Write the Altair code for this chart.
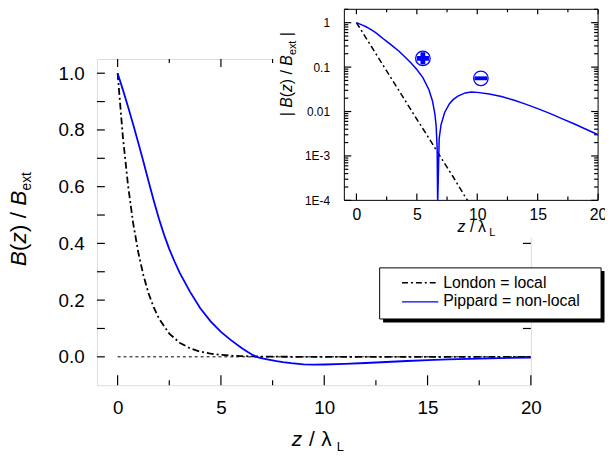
import altair as alt
import pandas as pd

# ---------------- data ----------------
z_pippard = [0, 0.25, 0.5, 0.75, 1.0, 1.25, 1.5, 1.75, 2.0, 2.25, 2.5, 2.75, 3.0, 3.5, 4.0, 4.5, 5.0,
             5.5, 6.0, 6.3, 6.5, 6.6, 6.68, 6.72, 6.73, 6.85, 7.0, 7.3, 7.7, 8.0, 8.4, 9.0,
             9.5, 10.0, 11.0, 12.0, 13.0, 14.0, 15.0, 16.0, 17.0, 18.0, 19.0, 20.0]
b_pippard = [1.0, 0.943, 0.883, 0.82, 0.755, 0.688, 0.618, 0.55, 0.487, 0.43, 0.38, 0.337, 0.297, 0.23, 0.171, 0.125, 0.088,
             0.058, 0.031, 0.017, 0.0085, 0.0046, 0.0015, 0.0001, -0.0001, -0.0025, -0.005, -0.0095, -0.0150, -0.0185, -0.0222, -0.0262,
             -0.0274, -0.027, -0.0248, -0.0217, -0.0182, -0.0147, -0.0116, -0.0091, -0.0069, -0.0053, -0.0040, -0.0030]

z_london = [0, 0.25, 0.5, 0.75, 1.0, 1.25, 1.5, 1.75, 2.0, 2.5, 3.0, 3.5, 4.0, 4.5, 5.0,
            5.5, 6.0, 7.0, 8.0, 9.0, 9.2, 10, 12, 14, 16, 18, 20]
b_london = [1.0, 0.779, 0.607, 0.472, 0.368, 0.287, 0.223, 0.174, 0.135, 0.082, 0.0498, 0.0302, 0.0183, 0.0111, 0.0067,
            0.0041, 0.0025, 0.00091, 0.00034, 0.00012, 0.0001, 0.00005, 0.000006, 0.000001, 0.0, 0.0, 0.0]

x_major = [0, 5, 10, 15, 20]
x_major_labels = ["0", "5", "10", "15", "20"]
x_minor = [2.5, 7.5, 12.5, 17.5]
y_main_ticks = [0.0, 0.1, 0.2, 0.3, 0.4, 0.5, 0.6, 0.7, 0.8, 0.9, 1.0]
y_main_labels = ["0.0", "", "0.2", "", "0.4", "", "0.6", "", "0.8", "", "1.0"]
inset_y_major = [0.0001, 0.001, 0.01, 0.1, 1.0]
inset_y_labels = ["1E-4", "1E-3", "0.01", "0.1", "1"]
inset_y_minor = [m * 10.0 ** e for e in range(-4, 0) for m in range(2, 10)] + [2.0]

legend_labels = ["London = local", "Pippard = non-local"]

FONT = "Liberation Sans"
BLUE = "#0000ff"
TICK = "#000000"
W, H = 439, 330

one = pd.DataFrame({"k": [0]})
pip = pd.DataFrame({"z": z_pippard, "b": b_pippard})
pip["babs"] = pip["b"].abs()
lon = pd.DataFrame({"z": z_london, "b": b_london})


def label_expr(values, labels):
    expr = "''"
    for v, lab in zip(values, labels):
        tol = abs(v) * 1e-3 + 1e-9
        expr = f"abs(datum.value - ({v})) < {tol} ? '{lab}' : ({expr})"
    return expr


def label_axis(orient, values, labels, base, fs, pad, z=0):
    return alt.Axis(orient=orient, values=values, offset=base, domain=False, grid=False,
                    title=None, ticks=False, zindex=z, labels=True,
                    labelExpr=label_expr(values, labels), labelFont=FONT,
                    labelFontSize=fs, labelColor="black", labelPadding=pad,
                    labelFlush=False, labelOverlap=False)


def xticks(values, scale, y0, y1):
    return alt.Chart(pd.DataFrame({"t": values})).mark_rule(color=TICK, strokeWidth=1.2).encode(
        x=alt.X("t:Q", scale=scale, axis=None), y=alt.value(y0), y2=alt.value(y1))


def yticks(values, scale, x0, x1):
    return alt.Chart(pd.DataFrame({"t": values})).mark_rule(color=TICK, strokeWidth=1.2).encode(
        y=alt.Y("t:Q", scale=scale, axis=None), x=alt.value(x0), x2=alt.value(x1))


# ---------------- main panel ----------------
mxs = alt.Scale(domain=[-1, 20], nice=False, zero=False)
mys = alt.Scale(domain=[-0.1, 1.05], nice=False, zero=False)

zero_line = alt.Chart(one).mark_rule(color="black", strokeWidth=1, strokeDash=[3, 3]).encode(
    x=alt.XDatum(0, type="quantitative", scale=mxs, axis=None),
    x2=alt.X2Datum(20),
    y=alt.YDatum(0, type="quantitative", scale=mys, axis=None))

lon_main = alt.Chart(lon).mark_line(color="black", strokeWidth=1.8, strokeDash=[7, 3, 2, 3]).encode(
    x=alt.X("z:Q", scale=mxs, axis=label_axis("bottom", x_major, x_major_labels, 0, 19, 14)),
    y=alt.Y("b:Q", scale=mys, axis=label_axis("left", y_main_ticks, y_main_labels, 0, 19, 13)))

pip_main = alt.Chart(pip).mark_line(color=BLUE, strokeWidth=1.8).encode(
    x=alt.X("z:Q", scale=mxs, axis=None),
    y=alt.Y("b:Q", scale=mys, axis=None))

main_ticks = [
    xticks(x_major, mxs, H, H - 10), xticks(x_minor, mxs, H, H - 5),
    xticks(x_major, mxs, 0, 8), xticks(x_minor, mxs, 0, 4),
    yticks(y_main_ticks, mys, 0, 8), yticks(y_main_ticks, mys, W, W - 8),
]

main = alt.layer(zero_line, *main_ticks, lon_main, pip_main).resolve_axis(x="independent", y="independent")

# ---------------- white background under the inset ----------------
bg = alt.Chart(one).mark_rect(color="white").encode(
    x=alt.value(179), x2=alt.value(520), y=alt.value(-57), y2=alt.value(181))

# ---------------- inset ----------------
IL, IR, IT, IB = 250.3, 507.0, -50.3, 143.0
ixs = alt.Scale(domain=[-1, 20], range=[IL, IR], nice=False, zero=False)
iys = alt.Scale(type="log", domain=[0.0001, 2], range=[IB, IT], nice=False)

frame = alt.Chart(one).mark_rect(fillOpacity=0, stroke="black", strokeWidth=1).encode(
    x=alt.XDatum(-1, type="quantitative", scale=ixs, axis=None),
    x2=alt.X2Datum(20),
    y=alt.YDatum(2, type="quantitative", scale=iys, axis=None),
    y2=alt.Y2Datum(0.0001))

lon_in = alt.Chart(lon).transform_filter("datum.b >= 0.0001").mark_line(
    color="black", strokeWidth=1.5, strokeDash=[6, 3, 2, 3]).encode(
    x=alt.X("z:Q", scale=ixs, axis=label_axis("bottom", x_major, x_major_labels, IB - H, 16, 6, z=1)),
    y=alt.Y("b:Q", scale=iys, axis=label_axis("left", inset_y_major, inset_y_labels, -IL, 12, 15, z=1)))

pip_in = alt.Chart(pip).mark_line(color=BLUE, strokeWidth=1.5).encode(
    x=alt.X("z:Q", scale=ixs, axis=None),
    y=alt.Y("babs:Q", scale=iys, axis=None))

inset_ticks = [
    xticks(x_major, ixs, IB, IB - 7), xticks(x_minor, ixs, IB, IB - 4),
    xticks(x_major, ixs, IT, IT + 5), xticks(x_minor, ixs, IT, IT + 3),
    yticks(inset_y_major, iys, IL, IL + 7), yticks(inset_y_minor, iys, IL, IL + 4),
    yticks(inset_y_major, iys, IR, IR - 7), yticks(inset_y_minor, iys, IR, IR - 4),
]


def sym(xv, yv, **mk):
    return alt.Chart(one).mark_point(**mk).encode(
        x=alt.XDatum(xv, type="quantitative", scale=ixs, axis=None),
        y=alt.YDatum(yv, type="quantitative", scale=iys, axis=None))


plus_c = sym(5.5, 0.157, shape="circle", filled=False, color=BLUE, strokeWidth=1.3, size=216, opacity=1)
plus_s = sym(5.5, 0.157, shape="cross", filled=True, color=BLUE, size=150, opacity=1)
minus_c = sym(10.3, 0.056, shape="circle", filled=False, color=BLUE, strokeWidth=1.3, size=216, opacity=1)
minus_s = sym(10.3, 0.056, shape="M-1,-0.3L1,-0.3L1,0.3L-1,0.3Z", filled=True, color=BLUE, size=169, opacity=1)

inset = alt.layer(frame, *inset_ticks, lon_in, pip_in, plus_c, plus_s, minus_c, minus_s).resolve_axis(
    x="independent", y="independent")

# ---------------- legend ----------------
shadow = alt.Chart(one).mark_rect(color="black").encode(
    x=alt.value(289.5), x2=alt.value(513.5), y=alt.value(214.5), y2=alt.value(266.5))
box = alt.Chart(one).mark_rect(fill="white", stroke="black", strokeWidth=1).encode(
    x=alt.value(286), x2=alt.value(510), y=alt.value(211.3), y2=alt.value(263))
samp1 = alt.Chart(one).mark_rule(color="black", strokeWidth=1.5, strokeDash=[6, 3, 2, 3]).encode(
    x=alt.value(308.7), x2=alt.value(344), y=alt.value(226.3))
samp2 = alt.Chart(one).mark_rule(color=BLUE, strokeWidth=1.5).encode(
    x=alt.value(308.7), x2=alt.value(345.3), y=alt.value(245.7))

AW = {"B": 0.667, "(": 0.333, ")": 0.333, "z": 0.5, " ": 0.278, "/": 0.278,
      "e": 0.556, "x": 0.5, "t": 0.278, "|": 0.26}


def text(s, x, y, fs, italic=False, angle=0):
    return alt.Chart(one).mark_text(
        text=s, font=FONT, fontSize=fs, fontStyle="italic" if italic else "normal",
        angle=angle, align="left", baseline="alphabetic", color="black").encode(
        x=alt.value(x), y=alt.value(y))


leg1 = text(legend_labels[0], 350.3, 231.3, 16)
leg2 = text(legend_labels[1], 350.3, 249.7, 16)


def vtext(pieces, x0, y0):
    out = []
    y = y0
    for s, fs, it, dx in pieces:
        stripped = s.lstrip(" ")
        y -= (len(s) - len(stripped)) * AW[" "] * fs
        out.append(text(stripped, x0 + dx, y, fs, italic=it, angle=270))
        y -= sum(AW[c] for c in stripped) * fs
    return out


main_ytitle = vtext([("B", 23, True, 0), ("(", 23, False, 0), ("z", 23, True, 0),
                     (") / ", 23, False, 0), ("B", 23, True, 0), ("ext", 14, False, 5)],
                    -71.3, 209.7)
inset_ytitle = vtext([("| ", 16, False, 0), ("B", 16, True, 0), ("(", 16, False, 0),
                      ("z", 16, True, 0), (") / ", 16, False, 0), ("B", 16, True, 0),
                      ("ext", 11, False, 4), (" |", 16, False, 0)],
                     197, 58)
main_xtitle = [text("z", 197, 391.3, 21, italic=True), text("/", 214.5, 391.3, 21),
               text("λ", 227, 391.3, 21), text("L", 242.5, 396.5, 13)]
inset_xtitle = [text("z", 364.7, 174.7, 16, italic=True), text("/", 377.5, 174.7, 16),
                text("λ", 385.5, 174.7, 16), text("L", 397, 179, 11)]

chart = alt.layer(main, bg, inset, shadow, box, samp1, samp2, leg1, leg2,
                  *main_ytitle, *inset_ytitle, *main_xtitle, *inset_xtitle).resolve_scale(
    x="independent", y="independent").properties(
    width=W, height=H,
    autosize=alt.AutoSizeParams(type="none"),
    padding={"left": 90, "top": 49, "right": 75, "bottom": 69},
).configure_view(stroke="black", strokeWidth=1).configure(background="white")

chart.save("out.html", embed_options={"renderer": "svg", "actions": False})
